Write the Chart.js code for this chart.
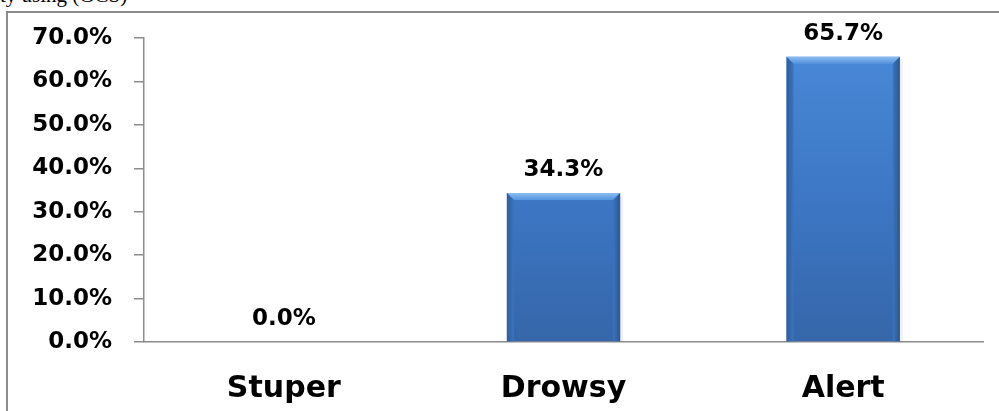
<!DOCTYPE html>
<html>
<head>
<meta charset="utf-8">
<script src="https://cdn.jsdelivr.net/npm/chart.js@4"></script>
<style>
  html, body { margin:0; padding:0; background:#fff; width:999px; height:411px; overflow:hidden; }
  #cap { position:absolute; left:0; top:-17px; font-family:"Liberation Serif", serif; font-size:21px; color:#000; white-space:nowrap; }
  #frame { position:absolute; left:6px; top:11px; width:1100px; height:500px; border-left:2px solid #8c8c8c; border-top:2px solid #8c8c8c; background:#fff; }
  #wrap { position:absolute; left:0; top:0; width:999px; height:411px; }
</style>
</head>
<body>
<div id="cap">ty using (GCS)</div>
<div id="frame"></div>
<div id="wrap"><canvas id="c" width="999" height="411"></canvas></div>
<script>
const categories = ["Stuper", "Drowsy", "Alert"];
const values = [0.0, 34.3, 65.7];
const yTicks = [0, 10, 20, 30, 40, 50, 60, 70];

const FONT = "'DejaVu Sans', Verdana, sans-serif";

function barFill(ctx) {
  const chart = ctx.chart;
  const area = chart.chartArea;
  if (!area) return '#3f7fcf';
  const g = chart.ctx.createLinearGradient(0, area.top, 0, area.bottom);
  g.addColorStop(0, '#4a8ad8');
  g.addColorStop(0.5, '#3d78c6');
  g.addColorStop(1, '#3566a9');
  return g;
}

const bevelPlugin = {
  id: 'bevel',
  afterDatasetsDraw(chart) {
    const c = chart.ctx;
    const meta = chart.getDatasetMeta(0);
    meta.data.forEach((bar) => {
      const w = bar.width, x0 = bar.x - w / 2, x1 = bar.x + w / 2, y0 = bar.y, y1 = bar.base;
      if (y1 - y0 < 2) return;
      const b = 7;
      c.save();
      let g = c.createLinearGradient(0, y0, 0, y0 + b);
      g.addColorStop(0, '#8cbdf0'); g.addColorStop(1, '#5594de');
      c.fillStyle = g;
      c.beginPath(); c.moveTo(x0, y0); c.lineTo(x1, y0); c.lineTo(x1 - b, y0 + b); c.lineTo(x0 + b, y0 + b); c.closePath(); c.fill();
      g = c.createLinearGradient(x0, 0, x0 + b, 0);
      g.addColorStop(0, '#2e5d9c'); g.addColorStop(1, '#3b74bf');
      c.fillStyle = g;
      c.beginPath(); c.moveTo(x0, y0); c.lineTo(x0 + b, y0 + b); c.lineTo(x0 + b, y1); c.lineTo(x0, y1); c.closePath(); c.fill();
      g = c.createLinearGradient(x1 - b, 0, x1, 0);
      g.addColorStop(0, '#3b74bf'); g.addColorStop(1, '#2a5690');
      c.fillStyle = g;
      c.beginPath(); c.moveTo(x1, y0); c.lineTo(x1 - b, y0 + b); c.lineTo(x1 - b, y1); c.lineTo(x1, y1); c.closePath(); c.fill();
      c.fillStyle = 'rgba(0,0,0,0.06)';
      c.fillRect(x1, y0 + 3, 3, y1 - y0 - 3);
      c.restore();
    });
  }
};

const labelPlugin = {
  id: 'valueLabels',
  afterDatasetsDraw(chart) {
    const c = chart.ctx;
    const meta = chart.getDatasetMeta(0);
    c.save();
    c.font = "bold 23px " + FONT;
    c.fillStyle = '#000';
    c.textAlign = 'center';
    c.textBaseline = 'alphabetic';
    meta.data.forEach((bar, i) => {
      c.fillText(values[i].toFixed(1) + '%', bar.x, bar.y - 17);
    });
    c.restore();
  }
};

new Chart(document.getElementById('c'), {
  type: 'bar',
  data: {
    labels: categories,
    datasets: [{
      data: values,
      backgroundColor: barFill,
      borderWidth: 0,
      barPercentage: 0.5,
      categoryPercentage: 0.81
    }]
  },
  options: {
    responsive: false,
    animation: false,
    events: [],
    layout: { padding: { top: 38, right: 16, left: 0, bottom: 0 } },
    plugins: { legend: { display: false }, tooltip: { enabled: false }, title: { display: false } },
    scales: {
      x: {
        grid: { display: false },
        border: { display: true, color: '#8c8c8c', width: 1.5 },
        ticks: { color: '#000', font: { family: FONT, size: 30, weight: 'bold' }, padding: 21, maxRotation: 0 },
        afterFit(s) { s.height = 69; }
      },
      y: {
        min: 0, max: 70,
        afterBuildTicks(s) { s.ticks = yTicks.map(v => ({ value: v })); },
        grid: { drawOnChartArea: false, drawTicks: true, tickLength: 10, tickColor: '#8c8c8c', lineWidth: 1.5 },
        border: { display: true, color: '#8c8c8c', width: 1.5 },
        ticks: { color: '#000', font: { family: FONT, size: 23, weight: 'bold' }, padding: 22,
                 callback: (v) => Number(v).toFixed(1) + '%' },
        afterFit(s) { s.width = 144; }
      }
    }
  },
  plugins: [bevelPlugin, labelPlugin]
});
</script>
</body>
</html>
